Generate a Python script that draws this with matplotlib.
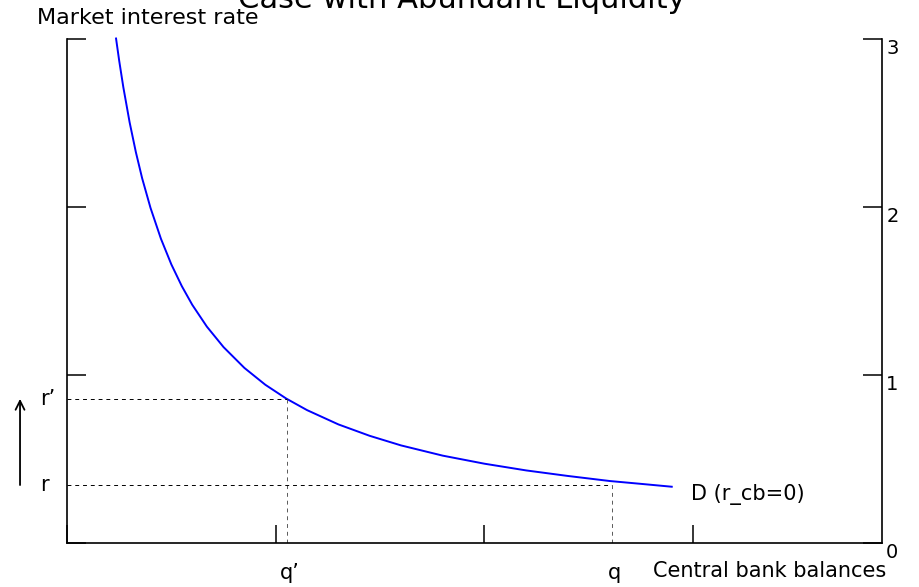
import matplotlib
matplotlib.use('Agg')
import matplotlib.pyplot as plt

plt.rcParams['font.family'] = 'DejaVu Sans'

# demand curve (denser where it bends)
q_curve = [0.235, 0.25, 0.27, 0.30, 0.33, 0.36, 0.40, 0.45, 0.50, 0.55,
           0.60, 0.67, 0.75, 0.85, 0.95, 1.05, 1.15, 1.30, 1.45, 1.60,
           1.80, 2.00, 2.20, 2.40, 2.60, 2.75, 2.897]
r_curve = [3.0, 2.868, 2.709, 2.501, 2.323, 2.168, 1.992, 1.808, 1.655, 1.526,
           1.415, 1.285, 1.163, 1.039, 0.939, 0.857, 0.788, 0.703, 0.635, 0.578,
           0.517, 0.469, 0.429, 0.396, 0.366, 0.349, 0.332]

q_prime, r_prime = 1.054, 0.855
q_base, r_base = 2.613, 0.342

x_ticks = [0, 1, 2, 3]
y_ticks = [0, 1, 2, 3]

fig = plt.figure(figsize=(9.19, 5.87), dpi=100)
ax = fig.add_axes([0.0729, 0.0758, 0.8868, 0.8586])

ax.plot(q_curve, r_curve, color='#0000ff', lw=1.4, clip_on=False,
        solid_joinstyle='round')

dash = (0, (4, 4))
ax.plot([0, q_prime], [r_prime, r_prime], color='k', lw=0.7, ls=dash)
ax.plot([q_prime, q_prime], [0, r_prime], color='0.35', lw=0.7, ls=dash)
ax.plot([0, q_base], [r_base, r_base], color='k', lw=0.7, ls=dash)
ax.plot([q_base, q_base], [0, r_base], color='0.35', lw=0.7, ls=dash)

ax.set_xlim(0, 3.904)
ax.set_ylim(0, 3)
ax.spines['top'].set_visible(False)
for s in ['left', 'right', 'bottom']:
    ax.spines[s].set_linewidth(1.2)

ax.set_xticks(x_ticks)
ax.set_xticklabels([])
ax.set_yticks(y_ticks)
ax.tick_params(axis='x', direction='in', length=13, width=1.1)
ax.tick_params(axis='y', direction='in', length=14, width=1.1, left=True, right=True,
               labelleft=False, labelright=True, labelsize=14, pad=3)
for t in ax.yaxis.get_major_ticks():
    t.label2.set_va('top')

# arrow showing the rate moving up
ax.annotate('', xy=(-0.225, r_prime), xytext=(-0.225, r_base),
            arrowprops=dict(arrowstyle='->', lw=1.3, color='k', mutation_scale=16,
                            shrinkA=0, shrinkB=0),
            annotation_clip=False)

ax.text(-0.129, r_prime, 'r’', fontsize=15, va='center', ha='left', clip_on=False)
ax.text(-0.129, r_base, 'r', fontsize=15, va='center', ha='left', clip_on=False)
ax.text(1.021, -0.18, 'q’', fontsize=15, va='center', ha='left', clip_on=False)
ax.text(2.592, -0.18, 'q', fontsize=15, va='center', ha='left', clip_on=False)
ax.text(2.808, -0.17, 'Central bank balances', fontsize=15, va='center', ha='left', clip_on=False)
ax.text(2.99, 0.283, 'D (r_cb=0)', fontsize=15, va='center', ha='left')

fig.text(37 / 919, 1 - 18 / 587, 'Market interest rate', fontsize=16, va='center', ha='left')
fig.text(462 / 919, 1 - 8 / 587, 'Case with Abundant Liquidity', fontsize=22,
         va='baseline', ha='center')

fig.savefig('out.png', dpi=100)
